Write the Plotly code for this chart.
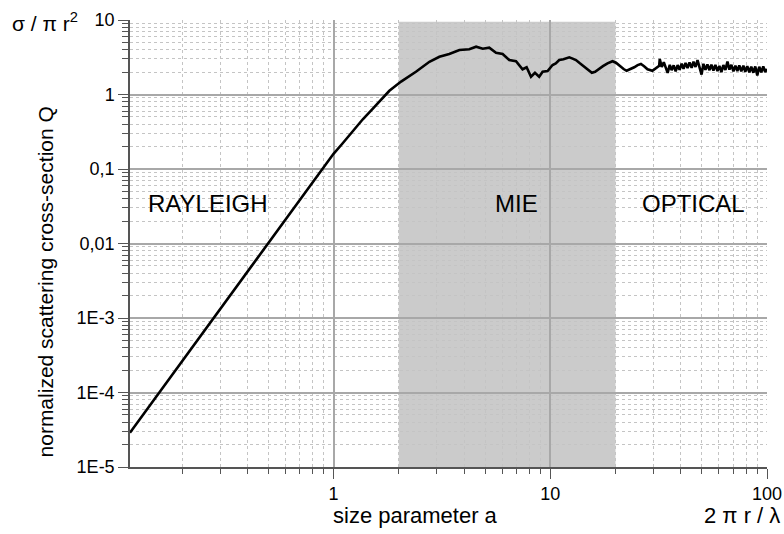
import plotly.graph_objects as go

# size parameter a (x) and normalized scattering cross-section Q (y)
size_param = [0.115, 0.2, 0.3, 0.5, 0.7, 0.9, 1.0, 1.1, 1.2, 1.365, 1.5, 1.65, 1.81, 2.05, 2.4, 2.77, 3.08, 3.42,
              3.81, 4.23, 4.55, 4.88, 5.23, 5.62, 6.03, 6.47, 6.95, 7.45, 7.78, 8.15, 8.5, 8.89, 9.22, 9.72,
              10.25, 10.6, 11.0, 11.5, 12.0, 12.24, 12.6, 13.14, 13.7, 14.35, 14.9, 15.56, 16.1, 16.82, 17.5,
              18.37, 18.9, 19.37, 20.1, 20.6, 21.2, 21.8, 22.5, 23.4, 24.4, 25.3, 26.2, 27.1, 28.1, 29.6, 30.7, 31.8,
              32.0, 32.7, 33.4, 34.1, 34.8, 35.6, 36.3, 37.1, 37.9, 38.7, 39.5, 40.4, 41.2, 42.1, 43.0, 43.9,
              44.9, 45.8, 46.8, 47.8, 48.8, 49.9, 50.9, 52.0, 53.1, 54.3, 55.4, 56.6, 57.8, 59.1, 60.3, 61.6,
              62.9, 64.3, 65.7, 67.1, 68.5, 70.0, 71.5, 73.0, 74.5, 76.1, 77.8, 79.4, 81.1, 82.9, 84.6, 86.5,
              88.3, 90.2, 92.1, 94.1, 96.1, 98.1, 100.0]
q_values = [2.88e-5, 2.63e-4, 1.33e-3, 0.0103, 0.0394, 0.108, 0.16, 0.22, 0.30, 0.465, 0.62, 0.85, 1.12, 1.49, 2.02, 2.75, 3.21, 3.50,
            3.95, 4.05, 4.38, 4.12, 4.25, 3.64, 3.50, 2.90, 2.79, 2.18, 2.32, 1.73, 1.96, 1.73, 2.02, 2.07,
            2.49, 2.62, 2.90, 2.98, 3.10, 3.16, 3.05, 2.90, 2.62, 2.36, 2.12, 1.96, 2.02, 2.18, 2.40,
            2.62, 2.70, 2.80, 2.67, 2.50, 2.36, 2.20, 2.08, 2.18, 2.32, 2.48, 2.57, 2.40, 2.18, 2.08, 2.25, 2.42,
            3.00, 2.34, 2.72, 2.30, 1.95, 2.50, 2.12, 2.46, 2.04, 2.48, 2.14, 2.60, 2.22, 2.66, 2.26, 2.70,
            2.28, 2.76, 2.34, 2.90, 2.32, 1.85, 2.58, 2.14, 2.53, 2.12, 2.52, 2.10, 2.50, 2.06, 2.42, 2.00,
            2.48, 2.14, 2.76, 2.16, 2.50, 2.04, 2.44, 2.06, 2.46, 2.04, 2.44, 2.02, 2.40, 1.98, 2.36, 1.96,
            2.38, 1.80, 2.36, 1.98, 2.38, 2.00, 2.20]

x_tickvals = [1, 10, 100]
x_ticktext = ["1", "10", "100"]
y_tickvals = [1e-5, 1e-4, 1e-3, 0.01, 0.1, 1, 10]
y_ticktext = ["1E-5", "1E-4", "1E-3", "0,01", "0,1", "1", "10"]

mie_range = [2, 20]
regions = ["RAYLEIGH", "MIE", "OPTICAL"]

x_minor = [m * 10 ** k for k in (-1, 0, 1) for m in range(2, 10)]
y_minor = [m * 10 ** k for k in range(-5, 1) for m in range(2, 10)]

FONT = "Liberation Sans, Arial, sans-serif"
AXC = "#555555"

fig = go.Figure()
fig.add_trace(go.Scatter(x=size_param, y=q_values, mode="lines",
                         line=dict(color="black", width=2.6), showlegend=False))

fig.add_shape(type="rect", xref="x", yref="y", x0=mie_range[0], x1=mie_range[1], y0=1e-5, y1=9.5,
              fillcolor="#cbcbcb", line=dict(width=0), layer="below")

axis_common = dict(
    type="log", showline=True, linecolor=AXC, linewidth=1.5, ticks="outside", ticklen=10,
    tickcolor=AXC, tickwidth=1.2, showgrid=True, gridcolor="#a8a8a8", gridwidth=1.5,
    zeroline=False, tickfont=dict(family=FONT, size=18, color="black"), mirror=False,
    automargin=False,
)
fig.update_xaxes(range=[-0.939, 2], tickmode="array", tickvals=x_tickvals, ticktext=x_ticktext,
                 minor=dict(tickmode="array", tickvals=x_minor, ticks="outside", ticklen=5, tickcolor=AXC,
                            showgrid=True, gridcolor="#c4c4c4", griddash="dot", gridwidth=1),
                 **axis_common)
fig.update_yaxes(range=[-5, 1], tickmode="array", tickvals=y_tickvals, ticktext=y_ticktext,
                 minor=dict(tickmode="array", tickvals=y_minor, ticks="outside", ticklen=6, tickcolor=AXC,
                            showgrid=True, gridcolor="#c4c4c4", griddash="dot", gridwidth=1),
                 **axis_common)

def ann(text, x, y, size, angle=0):
    fig.add_annotation(text=text, x=x, y=y, xref="paper", yref="paper", showarrow=False,
                       xanchor="center", yanchor="middle", textangle=angle,
                       font=dict(family=FONT, size=size, color="black"))

ann(regions[0], 0.1217, 0.5906, 24)
ann(regions[1], 0.6068, 0.5906, 24)
ann(regions[2], 0.8846, 0.5906, 24)
ann("σ / π r<sup>2</sup>", -0.133, 0.995, 21)
ann("2 π r / λ", 0.9608, -0.1074, 22)
ann("size parameter a", 0.448, -0.1096, 22)
ann("normalized scattering cross-section Q", -0.1319, 0.415, 21, angle=-90)

fig.update_layout(width=784, height=534, margin=dict(l=130, r=17, t=20, b=67),
                  plot_bgcolor="white", paper_bgcolor="white", showlegend=False)

fig.write_html("out.html")
